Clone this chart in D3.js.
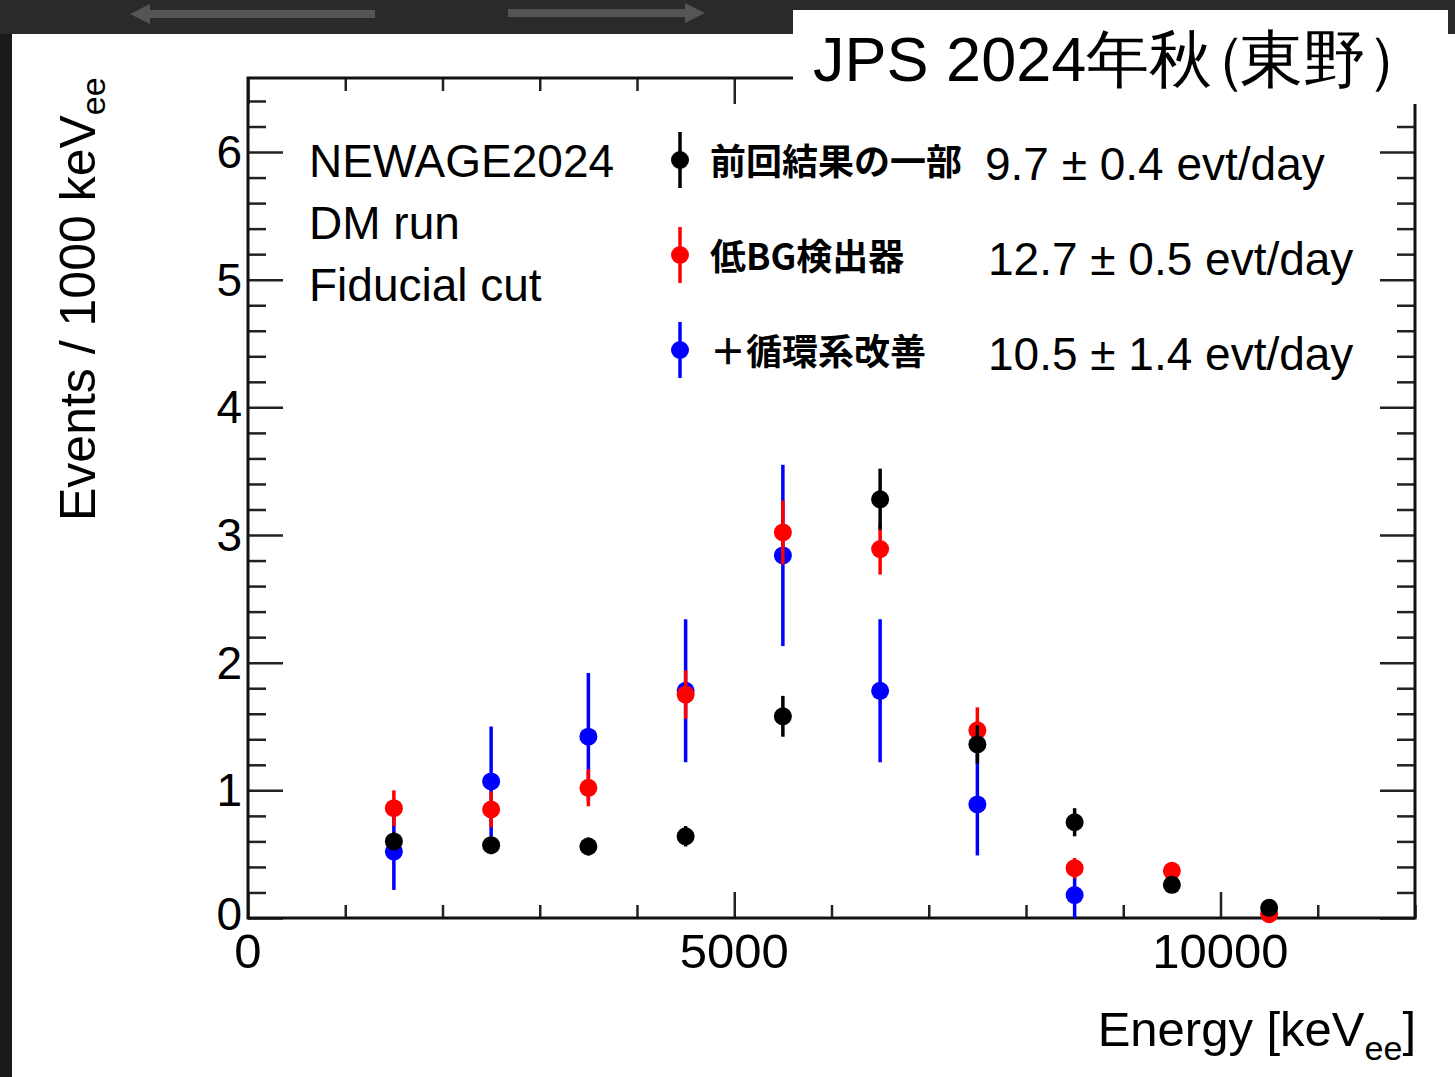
<!DOCTYPE html>
<html>
<head>
<meta charset="utf-8">
<script src="https://cdn.jsdelivr.net/npm/d3@7"></script>
<style>
  body { margin: 0; background: #111; }
  svg { display: block; }
  text { font-family: "Liberation Sans", Arial, sans-serif; fill: #000; }
  .jp { font-family: "Noto Sans CJK JP", sans-serif; font-weight: 700; }
</style>
</head>
<body>
<svg id="chart"></svg>
<script>
// bin centres, keV_ee
const energy = [1500, 2500, 3500, 4500, 5500, 6500, 7500, 8500, 9500, 10500];

// 前回結果の一部
const prevVal = [0.60, 0.57, 0.56, 0.64, 1.58, 3.28, 1.36, 0.75, 0.26, 0.08];
const prevErr = [0.07, 0.07, 0.07, 0.08, 0.16, 0.24, 0.15, 0.11, 0.06, 0.04];
// 低BG検出器
const lowbgVal = [0.86, 0.85, 1.02, 1.75, 3.02, 2.89, 1.47, 0.39, 0.37, 0.03];
const lowbgErr = [0.14, 0.14, 0.145, 0.19, 0.25, 0.20, 0.18, 0.08, 0.06, 0.03];
// ＋循環系改善 (no entries above 9000)
const circVal = [0.52, 1.07, 1.42, 1.78, 2.84, 1.78, 0.89, 0.18];
const circErr = [0.30, 0.43, 0.50, 0.56, 0.71, 0.56, 0.40, 0.20];

const seriesNames = ['前回結果の一部', '低BG検出器', '＋循環系改善'];
const seriesRates = ['9.7 ± 0.4 evt/day', '12.7 ± 0.5 evt/day', '10.5 ± 1.4 evt/day'];
const seriesColors = ['#000000', '#ff0000', '#0000ff'];

const infoLines = ['NEWAGE2024', 'DM run', 'Fiducial cut'];
const xMajor = [0, 5000, 10000];
const yMajor = [0, 1, 2, 3, 4, 5, 6];

const WIDTH = 1455, HEIGHT = 1077;
const PLOT = {left: 248, right: 1415, top: 78, bottom: 918};

const svg = d3.select('#chart').attr('width', WIDTH).attr('height', HEIGHT);

// dark slide background + white panel
svg.append('rect').attr('width', WIDTH).attr('height', HEIGHT).attr('fill', '#1b1b1b');
svg.append('rect').attr('x', 0).attr('y', 0).attr('width', WIDTH).attr('height', 34).attr('fill', '#2a2a2a');
svg.append('path').attr('d', 'M130,14 L150,4 L150,10 L375,10 L375,18 L150,18 L150,24 Z').attr('fill', '#555');
svg.append('path').attr('d', 'M705,13 L685,3 L685,9 L508,9 L508,17 L685,17 L685,23 Z').attr('fill', '#555');
svg.append('rect').attr('x', 12).attr('y', 34).attr('width', WIDTH - 12).attr('height', HEIGHT - 34).attr('fill', '#fff');

const x = d3.scaleLinear().domain([0, 12000]).range([PLOT.left, PLOT.right]);
const y = d3.scaleLinear().domain([0, 6.58]).range([PLOT.bottom, PLOT.top]);

// ticks (ROOT style, inward, mirrored)
const xMinor = d3.range(0, 12001, 1000).filter(v => v % 5000 !== 0);
const yMinor = d3.range(0, 6.59, 0.2).filter(v => Math.abs(v - Math.round(v)) > 1e-6);

const axisStyle = g => {
  g.select('.domain').remove();
  g.selectAll('line').attr('stroke', '#222').attr('stroke-width', 2.5);
};

svg.append('g').attr('transform', `translate(0,${PLOT.bottom})`)
  .call(d3.axisBottom(x).tickValues(xMajor).tickSize(-26).tickFormat(''))
  .call(axisStyle);
svg.append('g').attr('transform', `translate(0,${PLOT.bottom})`)
  .call(d3.axisBottom(x).tickValues(xMinor).tickSize(-13).tickFormat(''))
  .call(axisStyle);
svg.append('g').attr('transform', `translate(0,${PLOT.top})`)
  .call(d3.axisTop(x).tickValues(xMajor).tickSize(-26).tickFormat(''))
  .call(axisStyle);
svg.append('g').attr('transform', `translate(0,${PLOT.top})`)
  .call(d3.axisTop(x).tickValues(xMinor).tickSize(-13).tickFormat(''))
  .call(axisStyle);

svg.append('g').attr('transform', `translate(${PLOT.left},0)`)
  .call(d3.axisLeft(y).tickValues(yMajor).tickSize(-35).tickFormat(''))
  .call(axisStyle);
svg.append('g').attr('transform', `translate(${PLOT.left},0)`)
  .call(d3.axisLeft(y).tickValues(yMinor).tickSize(-18).tickFormat(''))
  .call(axisStyle);
svg.append('g').attr('transform', `translate(${PLOT.right},0)`)
  .call(d3.axisRight(y).tickValues(yMajor).tickSize(-35).tickFormat(''))
  .call(axisStyle);
svg.append('g').attr('transform', `translate(${PLOT.right},0)`)
  .call(d3.axisRight(y).tickValues(yMinor).tickSize(-18).tickFormat(''))
  .call(axisStyle);

// frame
svg.append('rect')
  .attr('x', PLOT.left).attr('y', PLOT.top)
  .attr('width', PLOT.right - PLOT.left).attr('height', PLOT.bottom - PLOT.top)
  .attr('fill', 'none').attr('stroke', '#111').attr('stroke-width', 3);

// tick labels
svg.append('g').selectAll('text').data(yMajor).join('text')
  .attr('x', 242).attr('y', d => y(d) + (d === 0 ? 12 : 16))
  .attr('text-anchor', 'end').attr('font-size', 46)
  .text(d => d);
svg.append('g').selectAll('text').data(xMajor).join('text')
  .attr('x', d => x(d)).attr('y', 968)
  .attr('text-anchor', 'middle').attr('font-size', 49)
  .text(d => d);

// axis titles
const yt = svg.append('text')
  .attr('transform', 'translate(95,521) rotate(-90)')
  .attr('font-size', 50);
yt.append('tspan').text('Events / 1000 keV');
yt.append('tspan').attr('font-size', 34).attr('dy', 10).text('ee');

const xt = svg.append('text').attr('x', 1416).attr('y', 1046)
  .attr('text-anchor', 'end').attr('font-size', 49);
xt.append('tspan').text('Energy [keV');
xt.append('tspan').attr('font-size', 34).attr('dy', 14).text('ee');
xt.append('tspan').attr('dy', -14).text(']');

// info text
svg.append('g').selectAll('text').data(infoLines).join('text')
  .attr('x', 309).attr('y', (d, i) => 177 + i * 62)
  .attr('font-size', 46)
  .text(d => d);

// data points with error bars
const drawSeries = (vals, errs, color) => {
  const pts = vals.map((v, i) => ({e: energy[i], v: v, err: errs[i]}));
  const g = svg.append('g');
  g.selectAll('line').data(pts).join('line')
    .attr('x1', d => x(d.e)).attr('x2', d => x(d.e))
    .attr('y1', d => y(Math.max(0, d.v - d.err)))
    .attr('y2', d => y(d.v + d.err))
    .attr('stroke', color).attr('stroke-width', 3.5);
  g.selectAll('circle').data(pts).join('circle')
    .attr('cx', d => x(d.e)).attr('cy', d => y(d.v))
    .attr('r', 9).attr('fill', color);
};
drawSeries(circVal, circErr, seriesColors[2]);
drawSeries(lowbgVal, lowbgErr, seriesColors[1]);
drawSeries(prevVal, prevErr, seriesColors[0]);

// legend
const legend = svg.append('g');
seriesNames.forEach((name, i) => {
  const cy = 160 + i * 95;
  legend.append('line').attr('x1', 680).attr('x2', 680)
    .attr('y1', cy - 28).attr('y2', cy + 28)
    .attr('stroke', seriesColors[i]).attr('stroke-width', 3.5);
  legend.append('circle').attr('cx', 680).attr('cy', cy).attr('r', 9).attr('fill', seriesColors[i]);
  legend.append('text').attr('class', 'jp')
    .attr('x', 710).attr('y', cy + 15).attr('font-size', 36)
    .text(name);
  legend.append('text').attr('x', i === 0 ? 985 : 988).attr('y', cy + 20)
    .attr('font-size', 46)
    .text(seriesRates[i]);
});

// title box; the full-width brackets are pulled in so they sit tight like the slide
svg.append('rect').attr('x', 793).attr('y', 10).attr('width', 655).attr('height', 94).attr('fill', '#fff');
const titleText = 'JPS 2024年秋（東野）';
const titleDx = Array.from(titleText).map(c => c === '（' ? -28 : c === '東' ? -7 : 0);
svg.append('text').attr('x', 813).attr('y', 81)
  .attr('font-family', '"Liberation Sans", "Noto Sans CJK JP", sans-serif')
  .attr('font-size', 63)
  .attr('dx', titleDx.join(' '))
  .text(titleText);
</script>
</body>
</html>
